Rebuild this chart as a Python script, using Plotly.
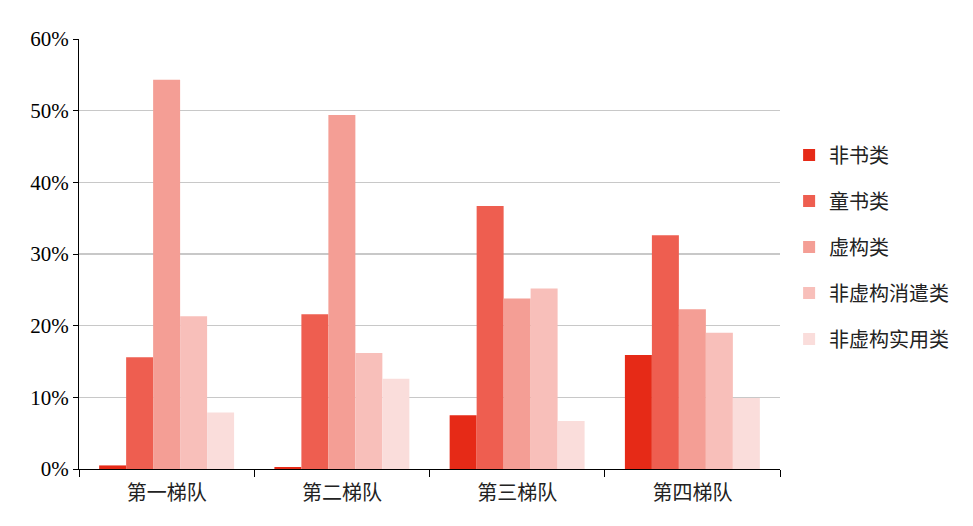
import plotly.graph_objects as go

categories = ["第一梯队", "第二梯队", "第三梯队", "第四梯队"]
series_names = ["非书类", "童书类", "虚构类", "非虚构消遣类", "非虚构实用类"]
non_book = [0.5, 0.2, 7.5, 15.9]
children = [15.6, 21.6, 36.7, 32.6]
fiction = [54.3, 49.4, 23.8, 22.3]
nonfic_leisure = [21.3, 16.2, 25.2, 19.0]
nonfic_practical = [7.9, 12.6, 6.7, 9.9]
y_ticks = [0, 10, 20, 30, 40, 50, 60]

colors = ["#E62A17", "#EE5E50", "#F49E95", "#F8BFBA", "#FADDDB"]
series = [non_book, children, fiction, nonfic_leisure, nonfic_practical]

fig = go.Figure()
for i, (name, vals) in enumerate(zip(series_names, series)):
    fig.add_trace(go.Bar(
        x=categories, y=vals, name=name,
        marker=dict(color=colors[i], line_width=0),
        legendgroup=name,
    ))

# the 30% gridline is drawn a bit heavier in the original
fig.add_hline(y=30, line=dict(color="#C8C8C8", width=2), layer="below")

# page body has an 8px margin, so the figure is sized/offset to compensate
fig.update_layout(
    width=965, height=518,
    barmode="group",
    bargap=0.23,
    bargroupgap=0,
    plot_bgcolor="white",
    paper_bgcolor="white",
    margin=dict(l=71, r=193, t=31, b=57),
    font=dict(family="Noto Sans CJK SC", size=20, color="#222"),
    legend=dict(
        x=1.013, xanchor="left", y=0.516, yanchor="middle",
        font=dict(size=20, family="Noto Sans CJK SC", color="#222"),
        tracegroupgap=17, itemwidth=30,
    ),
    xaxis=dict(
        showline=True, linecolor="black", linewidth=1,
        ticks="outside", tickson="boundaries", ticklen=7, tickcolor="black",
        ticklabelstandoff=6,
        tickfont=dict(family="Noto Sans CJK SC", size=20, color="#222"),
    ),
    yaxis=dict(
        range=[0, 60], tickvals=y_ticks,
        ticktext=[f"{v}%" for v in y_ticks],
        showline=True, linecolor="black", linewidth=1,
        ticks="outside", ticklen=5, tickcolor="black",
        showgrid=True, gridcolor="#C8C8C8", gridwidth=1,
        zeroline=False,
        tickfont=dict(family="Liberation Serif", size=21, color="black"),
    ),
)

fig.write_html("out.html")
